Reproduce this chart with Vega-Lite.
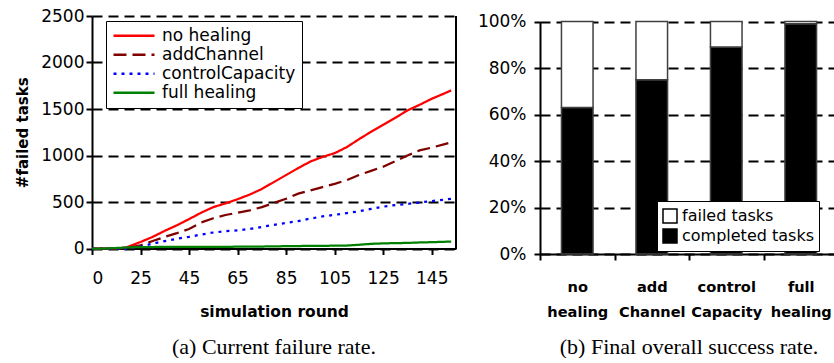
{
  "$schema": "https://vega.github.io/schema/vega-lite/v6.json",
  "padding": {"left": 15, "top": 7, "right": 0, "bottom": 0},
  "background": "white",
  "spacing": 20,
  "resolve": {"scale": {"color": "independent", "strokeDash": "independent"}, "legend": {"color": "independent"}},
  "datasets": {
    "lines": [
      {"round": 0, "series": "no healing", "failed": 0},
      {"round": 5, "series": "no healing", "failed": 0},
      {"round": 10, "series": "no healing", "failed": 2},
      {"round": 13, "series": "no healing", "failed": 6},
      {"round": 15, "series": "no healing", "failed": 20},
      {"round": 20, "series": "no healing", "failed": 70},
      {"round": 25, "series": "no healing", "failed": 125},
      {"round": 30, "series": "no healing", "failed": 190},
      {"round": 35, "series": "no healing", "failed": 250},
      {"round": 40, "series": "no healing", "failed": 316},
      {"round": 45, "series": "no healing", "failed": 385},
      {"round": 50, "series": "no healing", "failed": 445},
      {"round": 55, "series": "no healing", "failed": 485},
      {"round": 60, "series": "no healing", "failed": 530},
      {"round": 65, "series": "no healing", "failed": 580},
      {"round": 70, "series": "no healing", "failed": 640},
      {"round": 75, "series": "no healing", "failed": 715},
      {"round": 80, "series": "no healing", "failed": 790},
      {"round": 85, "series": "no healing", "failed": 865},
      {"round": 90, "series": "no healing", "failed": 935},
      {"round": 95, "series": "no healing", "failed": 985},
      {"round": 100, "series": "no healing", "failed": 1025},
      {"round": 105, "series": "no healing", "failed": 1090},
      {"round": 110, "series": "no healing", "failed": 1175},
      {"round": 115, "series": "no healing", "failed": 1255},
      {"round": 120, "series": "no healing", "failed": 1330},
      {"round": 125, "series": "no healing", "failed": 1405},
      {"round": 130, "series": "no healing", "failed": 1485},
      {"round": 135, "series": "no healing", "failed": 1545},
      {"round": 140, "series": "no healing", "failed": 1610},
      {"round": 145, "series": "no healing", "failed": 1665},
      {"round": 148, "series": "no healing", "failed": 1700},
      {"round": 0, "series": "addChannel", "failed": 0},
      {"round": 5, "series": "addChannel", "failed": 0},
      {"round": 10, "series": "addChannel", "failed": 0},
      {"round": 15, "series": "addChannel", "failed": 10},
      {"round": 20, "series": "addChannel", "failed": 35},
      {"round": 25, "series": "addChannel", "failed": 80},
      {"round": 30, "series": "addChannel", "failed": 125},
      {"round": 35, "series": "addChannel", "failed": 165},
      {"round": 40, "series": "addChannel", "failed": 210},
      {"round": 45, "series": "addChannel", "failed": 280},
      {"round": 50, "series": "addChannel", "failed": 325},
      {"round": 55, "series": "addChannel", "failed": 360},
      {"round": 60, "series": "addChannel", "failed": 385},
      {"round": 65, "series": "addChannel", "failed": 410},
      {"round": 70, "series": "addChannel", "failed": 445},
      {"round": 75, "series": "addChannel", "failed": 490},
      {"round": 80, "series": "addChannel", "failed": 535},
      {"round": 85, "series": "addChannel", "failed": 590},
      {"round": 90, "series": "addChannel", "failed": 625},
      {"round": 95, "series": "addChannel", "failed": 660},
      {"round": 100, "series": "addChannel", "failed": 695},
      {"round": 105, "series": "addChannel", "failed": 735},
      {"round": 110, "series": "addChannel", "failed": 790},
      {"round": 115, "series": "addChannel", "failed": 835},
      {"round": 120, "series": "addChannel", "failed": 880},
      {"round": 125, "series": "addChannel", "failed": 940},
      {"round": 130, "series": "addChannel", "failed": 1000},
      {"round": 135, "series": "addChannel", "failed": 1055},
      {"round": 140, "series": "addChannel", "failed": 1085},
      {"round": 145, "series": "addChannel", "failed": 1120},
      {"round": 148, "series": "addChannel", "failed": 1140},
      {"round": 0, "series": "controlCapacity", "failed": 0},
      {"round": 5, "series": "controlCapacity", "failed": 0},
      {"round": 10, "series": "controlCapacity", "failed": 0},
      {"round": 15, "series": "controlCapacity", "failed": 0},
      {"round": 20, "series": "controlCapacity", "failed": 20},
      {"round": 25, "series": "controlCapacity", "failed": 52},
      {"round": 30, "series": "controlCapacity", "failed": 80},
      {"round": 35, "series": "controlCapacity", "failed": 105},
      {"round": 40, "series": "controlCapacity", "failed": 125},
      {"round": 45, "series": "controlCapacity", "failed": 150},
      {"round": 50, "series": "controlCapacity", "failed": 172},
      {"round": 55, "series": "controlCapacity", "failed": 185},
      {"round": 60, "series": "controlCapacity", "failed": 195},
      {"round": 65, "series": "controlCapacity", "failed": 210},
      {"round": 70, "series": "controlCapacity", "failed": 232},
      {"round": 75, "series": "controlCapacity", "failed": 255},
      {"round": 80, "series": "controlCapacity", "failed": 275},
      {"round": 85, "series": "controlCapacity", "failed": 295},
      {"round": 90, "series": "controlCapacity", "failed": 322},
      {"round": 95, "series": "controlCapacity", "failed": 345},
      {"round": 100, "series": "controlCapacity", "failed": 362},
      {"round": 105, "series": "controlCapacity", "failed": 380},
      {"round": 110, "series": "controlCapacity", "failed": 400},
      {"round": 115, "series": "controlCapacity", "failed": 425},
      {"round": 120, "series": "controlCapacity", "failed": 450},
      {"round": 125, "series": "controlCapacity", "failed": 467},
      {"round": 130, "series": "controlCapacity", "failed": 480},
      {"round": 135, "series": "controlCapacity", "failed": 495},
      {"round": 140, "series": "controlCapacity", "failed": 510},
      {"round": 145, "series": "controlCapacity", "failed": 525},
      {"round": 148, "series": "controlCapacity", "failed": 535},
      {"round": 0, "series": "full healing", "failed": 0},
      {"round": 5, "series": "full healing", "failed": 0},
      {"round": 10, "series": "full healing", "failed": 5},
      {"round": 15, "series": "full healing", "failed": 12},
      {"round": 20, "series": "full healing", "failed": 15},
      {"round": 30, "series": "full healing", "failed": 17},
      {"round": 40, "series": "full healing", "failed": 18},
      {"round": 50, "series": "full healing", "failed": 18},
      {"round": 60, "series": "full healing", "failed": 19},
      {"round": 70, "series": "full healing", "failed": 21},
      {"round": 80, "series": "full healing", "failed": 25},
      {"round": 90, "series": "full healing", "failed": 28},
      {"round": 100, "series": "full healing", "failed": 30},
      {"round": 105, "series": "full healing", "failed": 32},
      {"round": 110, "series": "full healing", "failed": 40},
      {"round": 115, "series": "full healing", "failed": 50},
      {"round": 120, "series": "full healing", "failed": 55},
      {"round": 125, "series": "full healing", "failed": 58},
      {"round": 130, "series": "full healing", "failed": 60},
      {"round": 135, "series": "full healing", "failed": 65},
      {"round": 140, "series": "full healing", "failed": 68},
      {"round": 145, "series": "full healing", "failed": 72},
      {"round": 148, "series": "full healing", "failed": 75}
    ],
    "bars": [
      {"strategy": "no healing", "status": "completed tasks", "share": 0.63},
      {"strategy": "no healing", "status": "failed tasks", "share": 0.37},
      {"strategy": "add Channel", "status": "completed tasks", "share": 0.75},
      {"strategy": "add Channel", "status": "failed tasks", "share": 0.25},
      {"strategy": "control Capacity", "status": "completed tasks", "share": 0.89},
      {"strategy": "control Capacity", "status": "failed tasks", "share": 0.11},
      {"strategy": "full healing", "status": "completed tasks", "share": 0.99},
      {"strategy": "full healing", "status": "failed tasks", "share": 0.01}
    ]
  },
  "hconcat": [
    {
      "width": 364,
      "height": 232.5,
      "title": {"text": "(a) Current failure rate.", "orient": "bottom", "frame": "group", "anchor": "middle", "font": "Liberation Serif", "fontSize": 22, "fontWeight": "normal", "color": "black", "offset": 17},
      "data": {"name": "lines"},
      "layer": [
        {
          "mark": {"type": "line", "strokeWidth": 2.25},
          "encoding": {
            "x": {
              "field": "round", "type": "quantitative",
              "scale": {"domain": [0, 150], "nice": false, "zero": false},
              "axis": {
                "values": [0, 20, 40, 60, 80, 100, 120, 140],
                "labelExpr": "datum.value == 0 ? '0' : format(datum.value + 5, 'd')",
                "labelDx": 5,
                "labelPadding": 16,
                "grid": false,
                "title": "simulation round",
                "titleFont": "DejaVu Sans", "titleFontWeight": "bold", "titleFontSize": 15.5,
                "titlePadding": 18,
                "titleX": 182
              }
            },
            "y": {
              "field": "failed", "type": "quantitative",
              "scale": {"domain": [0, 2500], "nice": false},
              "axis": {
                "values": [0, 500, 1000, 1500, 2000, 2500],
                "format": "d",
                "grid": true,
                "title": "#failed tasks",
                "titleFont": "DejaVu Sans", "titleFontWeight": "bold", "titleFontSize": 15,
                "titlePadding": 10
              }
            },
            "color": {
              "field": "series", "type": "nominal",
              "scale": {"domain": ["no healing", "addChannel", "controlCapacity", "full healing"], "range": ["#FF0000", "#800000", "#0000FF", "#008000"]},
              "legend": {
                "title": null, "orient": "none", "legendX": 14, "legendY": 5,
                "symbolType": "stroke", "symbolSize": 1681, "symbolStrokeWidth": 2.5,
                "clipHeight": 17.7, "rowPadding": 0,
                "labelFont": "DejaVu Sans", "labelFontSize": 17, "labelColor": "black", "labelOffset": 6,
                "strokeColor": "black", "fillColor": "white", "padding": 6
              }
            },
            "strokeDash": {
              "field": "series", "type": "nominal",
              "scale": {"domain": ["no healing", "addChannel", "controlCapacity", "full healing"], "range": [[1, 0], [13, 6], [3, 5], [1, 0]]},
              "legend": {
                "title": null, "orient": "none", "legendX": 14, "legendY": 5,
                "symbolType": "stroke", "symbolSize": 1681, "symbolStrokeWidth": 2.5,
                "clipHeight": 17.7, "rowPadding": 0,
                "labelFont": "DejaVu Sans", "labelFontSize": 17, "labelColor": "black", "labelOffset": 6,
                "strokeColor": "black", "fillColor": "white", "padding": 6
              }
            }
          }
        },
        {
          "mark": {"type": "rule", "color": "black", "strokeWidth": 2},
          "encoding": {"x": {"datum": 150, "type": "quantitative"}}
        }
      ]
    },
    {
      "width": 298,
      "height": 238,
      "title": {"text": "(b) Final overall success rate.", "orient": "bottom", "frame": "group", "anchor": "middle", "font": "Liberation Serif", "fontSize": 22, "fontWeight": "normal", "color": "black", "offset": 18},
      "data": {"name": "bars"},
      "mark": {"type": "bar", "stroke": "#404040", "strokeWidth": 1.5, "width": {"band": 0.424}},
      "encoding": {
        "x": {
          "field": "strategy", "type": "nominal", "sort": null,
          "scale": {"paddingInner": 0, "paddingOuter": 0},
          "axis": {
            "labelExpr": "split(datum.label, ' ')",
            "labelAngle": 0,
            "tickBand": "extent",
            "labelFont": "DejaVu Sans", "labelFontWeight": "bold", "labelFontSize": 14.6,
            "labelLineHeight": 25,
            "labelPadding": 19,
            "title": null
          }
        },
        "y": {
          "field": "share", "type": "quantitative", "stack": "zero",
          "scale": {"domain": [0, 1], "nice": false, "range": [238, 5.5]},
          "axis": {
            "values": [0, 0.2, 0.4, 0.6, 0.8, 1],
            "format": ".0%",
            "grid": true,
            "title": null,
            "labelPadding": 8
          }
        },
        "order": {"field": "status", "sort": "ascending"},
        "color": {
          "field": "status", "type": "nominal",
          "scale": {"domain": ["failed tasks", "completed tasks"], "range": ["white", "black"]},
          "legend": {
            "title": null, "orient": "none", "legendX": 117, "legendY": 185,
            "symbolType": "square", "symbolSize": 196,
            "symbolStrokeColor": "black", "symbolStrokeWidth": 1.5,
            "clipHeight": 20, "rowPadding": 0,
            "labelFont": "DejaVu Sans", "labelFontSize": 16, "labelColor": "black", "labelOffset": 4,
            "strokeColor": "black", "fillColor": "white", "padding": 5
          }
        }
      }
    }
  ],
  "config": {
    "view": {"stroke": null},
    "axis": {
      "domainColor": "black", "domainWidth": 2,
      "tickColor": "black", "tickWidth": 2, "tickSize": 6,
      "labelColor": "black", "labelFont": "DejaVu Sans", "labelFontSize": 17,
      "titleColor": "black",
      "gridColor": "black", "gridDash": [10, 6], "gridWidth": 2
    }
  }
}
